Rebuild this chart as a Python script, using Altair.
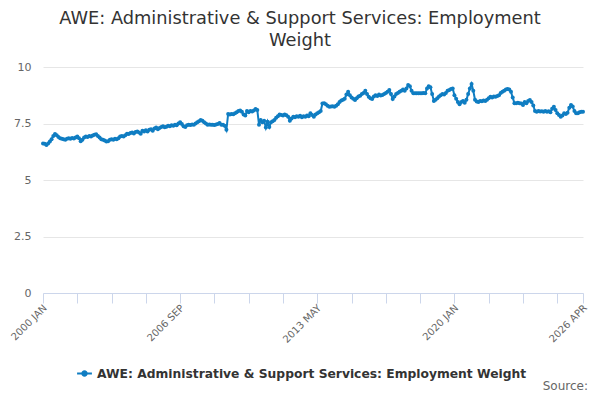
import altair as alt
import pandas as pd

MONTHS = ["JAN", "FEB", "MAR", "APR", "MAY", "JUN", "JUL", "AUG", "SEP", "OCT", "NOV", "DEC"]
START_YEAR = 2000

v2000 = [6.62, 6.60, 6.55, 6.62, 6.70, 6.80, 6.95, 7.03, 6.98, 6.90, 6.85, 6.82]
v2001 = [6.80, 6.78, 6.82, 6.85, 6.83, 6.86, 6.84, 6.88, 6.92, 6.85, 6.72, 6.78]
v2002 = [6.88, 6.92, 6.90, 6.95, 6.93, 6.97, 7.00, 7.02, 6.95, 6.88, 6.80, 6.78]
v2003 = [6.75, 6.70, 6.72, 6.78, 6.80, 6.78, 6.82, 6.80, 6.85, 6.93, 6.95, 6.92]
v2004 = [6.98, 7.05, 7.03, 7.08, 7.10, 7.06, 7.12, 7.15, 7.10, 7.05, 7.18, 7.15]
v2005 = [7.20, 7.15, 7.22, 7.25, 7.18, 7.28, 7.32, 7.25, 7.30, 7.35, 7.38, 7.33]
v2006 = [7.36, 7.40, 7.38, 7.42, 7.40, 7.45, 7.42, 7.50, 7.55, 7.48, 7.38, 7.35]
v2007 = [7.42, 7.45, 7.43, 7.46, 7.44, 7.50, 7.55, 7.60, 7.65, 7.62, 7.55, 7.50]
v2008 = [7.45, 7.46, 7.44, 7.45, 7.43, 7.46, 7.48, 7.52, 7.45, 7.44, 7.40, 7.22]
v2009 = [7.92, 7.90, 7.92, 7.91, 7.95, 8.00, 8.05, 8.08, 8.02, 7.90, 7.85, 8.05]
v2010 = [8.00, 8.05, 8.03, 8.08, 8.14, 8.10, 7.45, 7.65, 7.55, 7.62, 7.32, 7.58]
v2011 = [7.35, 7.55, 7.60, 7.65, 7.75, 7.82, 7.90, 7.88, 7.85, 7.90, 7.86, 7.80]
v2012 = [7.62, 7.72, 7.80, 7.78, 7.82, 7.80, 7.84, 7.78, 7.82, 7.80, 7.85, 7.82]
v2013 = [7.95, 7.88, 7.80, 7.90, 7.95, 8.00, 8.05, 8.38, 8.40, 8.35, 8.28, 8.24]
v2014 = [8.25, 8.26, 8.24, 8.28, 8.35, 8.45, 8.52, 8.55, 8.60, 8.78, 8.90, 8.75]
v2015 = [8.65, 8.60, 8.54, 8.62, 8.70, 8.73, 8.80, 8.85, 8.95, 8.80, 8.68, 8.62]
v2016 = [8.58, 8.70, 8.75, 8.72, 8.78, 8.74, 8.76, 8.80, 8.85, 8.90, 8.98, 8.80]
v2017 = [8.58, 8.70, 8.80, 8.85, 8.90, 8.95, 9.00, 8.95, 9.05, 9.20, 9.15, 8.95]
v2018 = [8.84, 8.84, 8.84, 8.84, 8.84, 8.84, 8.85, 8.84, 9.05, 9.15, 9.10, 8.80]
v2019 = [8.50, 8.55, 8.62, 8.70, 8.75, 8.80, 8.78, 8.85, 8.95, 8.98, 9.03, 9.05]
v2020 = [8.75, 8.60, 8.45, 8.35, 8.45, 8.50, 8.42, 8.55, 8.80, 9.05, 9.25, 8.95]
v2021 = [8.55, 8.47, 8.45, 8.50, 8.48, 8.52, 8.50, 8.55, 8.62, 8.68, 8.65, 8.70]
v2022 = [8.68, 8.72, 8.75, 8.85, 8.90, 8.95, 9.00, 9.03, 9.00, 8.90, 8.65, 8.40]
v2023 = [8.40, 8.42, 8.40, 8.38, 8.32, 8.45, 8.40, 8.50, 8.54, 8.45, 8.30, 8.05]
v2024 = [8.02, 8.05, 8.03, 8.04, 8.02, 8.05, 8.02, 8.04, 8.00, 8.15, 8.24, 8.10]
v2025 = [7.95, 7.88, 7.80, 7.85, 7.95, 7.92, 7.98, 8.20, 8.32, 8.25, 8.05, 7.95]
v2026 = [7.95, 8.00, 8.02, 8.02]

yearly = [v2000, v2001, v2002, v2003, v2004, v2005, v2006, v2007, v2008, v2009,
          v2010, v2011, v2012, v2013, v2014, v2015, v2016, v2017, v2018, v2019,
          v2020, v2021, v2022, v2023, v2024, v2025, v2026]

SERIES = "AWE: Administrative & Support Services: Employment Weight"
TITLE_LINES = ["AWE: Administrative & Support Services: Employment", "Weight"]
SHOWN_LABELS = ["2000 JAN", "2006 SEP", "2013 MAY", "2020 JAN", "2026 APR"]
Y_TICKS = [0, 2.5, 5, 7.5, 10]

labels, values = [], []
for yi, vals in enumerate(yearly):
    for mi, v in enumerate(vals):
        labels.append(f"{START_YEAR + yi} {MONTHS[mi]}")
        values.append(v)

df = pd.DataFrame({"month": labels, "value": values, "series": SERIES})

tick_values = [labels[i] for i in range(0, len(labels), 20)] + [labels[-1]]
label_expr = "indexof(" + str(SHOWN_LABELS) + ", datum.label) >= 0 ? datum.label : ''"

FONT = "DejaVu Sans"
BLUE = "#0f7dc2"

line = alt.Chart(df).mark_line(
    strokeWidth=2,
    point=alt.OverlayMarkDef(size=16, filled=True, color=BLUE),
).encode(
    x=alt.X(
        "month:O",
        sort=labels,
        scale=alt.Scale(type="point", padding=0),
        axis=alt.Axis(
            title=None,
            values=tick_values,
            labelExpr=label_expr,
            labelAngle=-45,
            labelAlign="right",
            labelBaseline="middle",
            labelFontSize=10,
            labelColor="#666666",
            labelFont=FONT,
            labelOverlap=False,
            labelPadding=3,
            labelOffset=2,
            tickColor="#ccd6eb",
            tickSize=10,
            domainColor="#ccd6eb",
            grid=False,
        ),
    ),
    y=alt.Y(
        "value:Q",
        scale=alt.Scale(domain=[0, 10], nice=False),
        axis=alt.Axis(
            title=None,
            values=Y_TICKS,
            format=".2~f",
            labelFontSize=11,
            labelColor="#666666",
            labelFont=FONT,
            labelPadding=12,
            ticks=False,
            domain=False,
            gridColor="#e6e6e6",
        ),
    ),
    color=alt.Color(
        "series:N",
        scale=alt.Scale(range=[BLUE]),
        legend=alt.Legend(
            title=None,
            orient="none",
            legendX=33,
            legendY=298,
            labelFontSize=12.3,
            labelFontWeight="bold",
            labelColor="#333333",
            labelFont=FONT,
            labelLimit=0,
            symbolType="M-1,0L1,0M-0.3,0A0.3,0.3 0 1,1 0.3,0A0.3,0.3 0 1,1 -0.3,0",
            symbolSize=220,
            symbolStrokeWidth=2,
        ),
    ),
)

source = alt.Chart(pd.DataFrame({"t": ["Source:"]})).mark_text(
    align="right", baseline="alphabetic", fontSize=12, color="#666666", font=FONT
).encode(text="t:N", x=alt.value(545), y=alt.value(323))

chart = alt.layer(line, source).properties(
    width=540,
    height=226,
    autosize=alt.AutoSizeParams(type="none"),
    padding={"left": 35, "top": 59, "right": 6, "bottom": 99},
    title=alt.TitleParams(
        text=TITLE_LINES,
        anchor="middle",
        dx=-13,
        offset=11,
        fontSize=17.8,
        fontWeight="normal",
        color="#333333",
        font=FONT,
        lineHeight=22,
    ),
).configure_view(stroke=None)

chart.save("out.html", embed_options={"renderer": "svg", "actions": False})
